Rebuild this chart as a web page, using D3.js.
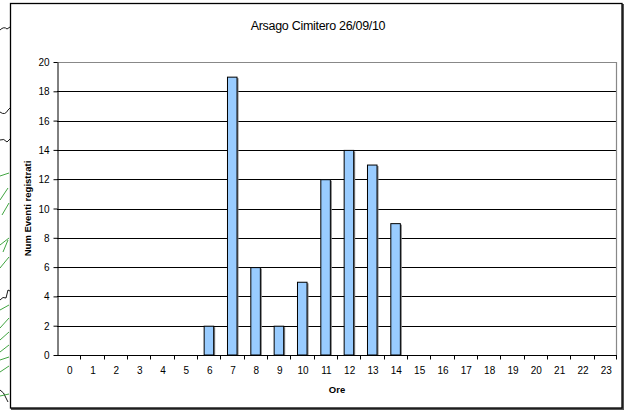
<!DOCTYPE html>
<html lang="it">
<head>
    <meta charset="UTF-8">
    <title>Arsago Cimitero 26/09/10</title>
    <style>
        body {
            margin: 0;
            background-color: #ffffff;
        }

        svg {
            display: block;
            font-family: "Liberation Sans", Arial, sans-serif;
        }

        .axis text {
            font-size: 10px;
            fill: #000;
        }

        .axis path,
        .axis line {
            stroke: #000;
        }
    </style>
</head>
<body>
    <svg id="chart" width="625" height="410"></svg>

    <script src="https://cdn.jsdelivr.net/npm/d3@7"></script>
    <script>
        // Hours of the day and registered events per hour
        const hours = d3.range(0, 24).map(String);
        const events = [0, 0, 0, 0, 0, 0, 2, 19, 6, 2, 5, 12, 14, 13, 9, 0, 0, 0, 0, 0, 0, 0, 0, 0];
        const yTicks = [0, 2, 4, 6, 8, 10, 12, 14, 16, 18, 20];

        const title = "Arsago Cimitero 26/09/10";
        const xTitle = "Ore";
        const yTitle = "Num Eventi registrati";

        const svg = d3.select("#chart");

        const plot = { left: 57, right: 617, top: 62, bottom: 355 };

        // scraps of another picture peeking out at the left edge
        const scraps = [
            ["#000", "M0,30 Q4,26 7,29 L10,27"],
            ["#000", "M0,112 Q5,116 8,110 L10,108"],
            ["#000", "M0,140 Q4,138 7,142 L10,139"],
            ["#2a9a2a", "M0,176 L9,173"],
            ["#2a9a2a", "M0,200 L8,188"],
            ["#2a9a2a", "M2,215 L9,203"],
            ["#2a9a2a", "M0,245 L9,238"],
            ["#2a9a2a", "M3,252 L8,240"],
            ["#2a9a2a", "M0,268 L9,257"],
            ["#000", "M0,300 Q3,296 6,298 L8,290 L10,291"],
            ["#2a9a2a", "M0,310 L9,305"],
            ["#2a9a2a", "M0,328 L9,318"],
            ["#2a9a2a", "M0,340 L9,332"],
            ["#2a9a2a", "M0,352 L9,345"],
            ["#2a9a2a", "M0,360 L9,357"],
            ["#2a9a2a", "M0,372 L9,366"],
            ["#000", "M0,390 Q4,392 6,398 L8,402"],
            ["#2a9a2a", "M0,396 L9,394"]
        ];
        svg.append("g")
            .selectAll("path")
            .data(scraps)
            .join("path")
            .attr("d", d => d[1])
            .attr("fill", "none")
            .attr("stroke", d => d[0])
            .attr("stroke-width", 0.9);

        // chart area frame with a slight shadow on the right and bottom
        svg.append("path")
            .attr("d", "M623,4 L623,409 L11,409")
            .attr("fill", "none")
            .attr("stroke", "#555")
            .attr("stroke-width", 2);
        svg.append("rect")
            .attr("x", 10.5)
            .attr("y", 3.5)
            .attr("width", 611.5)
            .attr("height", 404.5)
            .attr("fill", "#fff")
            .attr("stroke", "#000")
            .attr("stroke-width", 1.3);

        const x = d3.scaleBand()
            .domain(hours)
            .range([plot.left, plot.right])
            .paddingInner(0.57)
            .paddingOuter(0.285);

        const xCat = d3.scaleBand()
            .domain(hours)
            .range([plot.left, plot.right]);

        const y = d3.scaleLinear()
            .domain([0, 20])
            .range([plot.bottom, plot.top]);

        // gridlines
        svg.append("g")
            .selectAll("line")
            .data(yTicks.filter(d => d > 0 && d < 20))
            .join("line")
            .attr("x1", plot.left)
            .attr("x2", plot.right)
            .attr("y1", d => Math.round(y(d)) + 0.5)
            .attr("y2", d => Math.round(y(d)) + 0.5)
            .attr("stroke", "#000")
            .attr("stroke-width", 1);

        // plot area border (top and right)
        svg.append("path")
            .attr("d", `M${plot.left},${plot.top + 0.5} L${plot.right - 0.5},${plot.top + 0.5} L${plot.right - 0.5},${plot.bottom}`)
            .attr("fill", "none")
            .attr("stroke", "#888")
            .attr("stroke-width", 1.2);

        // bars, with a thin grey shade on the right side
        const bars = svg.append("g");
        bars.selectAll("rect.shade")
            .data(events.map((v, i) => ({ h: hours[i], v })).filter(d => d.v > 0))
            .join("rect")
            .attr("class", "shade")
            .attr("x", d => x(d.h) + 1.5)
            .attr("y", d => y(d.v) + 1.5)
            .attr("width", x.bandwidth())
            .attr("height", d => y(0) - y(d.v) - 1.5)
            .attr("fill", "#808080");
        bars.selectAll("rect.bar")
            .data(events.map((v, i) => ({ h: hours[i], v })).filter(d => d.v > 0))
            .join("rect")
            .attr("class", "bar")
            .attr("x", d => x(d.h) + 0.5)
            .attr("y", d => y(d.v) + 0.5)
            .attr("width", x.bandwidth() - 0.5)
            .attr("height", d => y(0) - y(d.v) - 0.5)
            .attr("fill", "#99ccff")
            .attr("stroke", "#000")
            .attr("stroke-width", 1);

        // y axis
        svg.append("g")
            .attr("class", "axis")
            .attr("transform", `translate(${plot.left + 0.5},0)`)
            .call(d3.axisLeft(y).tickValues(yTicks).tickSize(4).tickPadding(4).tickSizeOuter(0))
            .call(g => g.selectAll("text").attr("dy", "0.35em"));

        // x axis: ticks on category boundaries, labels centred
        const xAxis = svg.append("g")
            .attr("class", "axis")
            .attr("transform", `translate(0,${plot.bottom + 0.5})`);
        xAxis.append("line")
            .attr("x1", plot.left)
            .attr("x2", plot.right)
            .attr("stroke", "#000");
        xAxis.selectAll("line.tick")
            .data(hours.slice(1).concat(["end"]))
            .join("line")
            .attr("class", "tick")
            .attr("x1", d => d === "end" ? plot.right - 0.5 : Math.round(xCat(d)) + 0.5)
            .attr("x2", d => d === "end" ? plot.right - 0.5 : Math.round(xCat(d)) + 0.5)
            .attr("y1", 0)
            .attr("y2", 4)
            .attr("stroke", "#000");
        xAxis.selectAll("text")
            .data(hours)
            .join("text")
            .attr("x", d => xCat(d) + xCat.bandwidth() / 2 + 1)
            .attr("y", 18)
            .attr("text-anchor", "middle")
            .text(d => d);

        // titles
        svg.append("text")
            .attr("x", 318)
            .attr("y", 30)
            .attr("text-anchor", "middle")
            .attr("font-size", 12.5)
            .attr("letter-spacing", -0.3)
            .text(title);

        svg.append("text")
            .attr("x", (plot.left + plot.right) / 2)
            .attr("y", 393)
            .attr("text-anchor", "middle")
            .attr("font-size", 9.5)
            .attr("font-weight", "bold")
            .text(xTitle);

        svg.append("text")
            .attr("transform", `translate(31,${(plot.top + plot.bottom) / 2}) rotate(-90)`)
            .attr("text-anchor", "middle")
            .attr("font-size", 9.5)
            .attr("font-weight", "bold")
            .text(yTitle);
    </script>
</body>
</html>
